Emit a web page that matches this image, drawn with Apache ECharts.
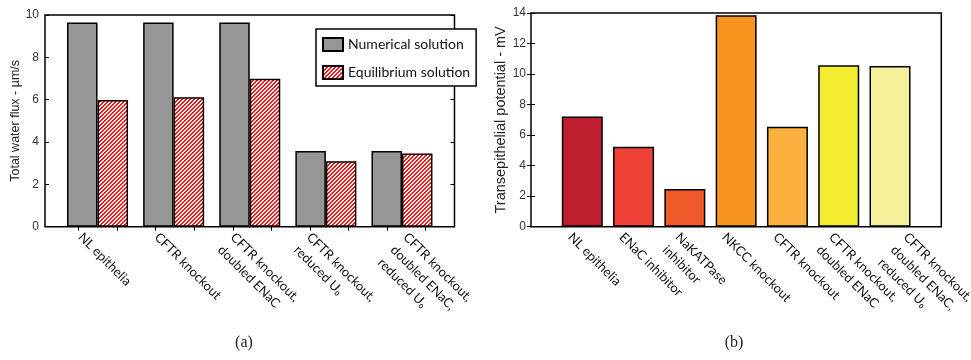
<!DOCTYPE html>
<html><head><meta charset="utf-8">
<script src="https://cdn.jsdelivr.net/npm/echarts@6/dist/echarts.min.js"></script>
<style>html,body{margin:0;padding:0;background:#fff}#c{width:971px;height:360px}</style>
</head><body><div id="c"></div>
<script>
// ---- data ----
const categoriesA = ['NL epithelia', 'CFTR knockout', 'CFTR knockout,\ndoubled ENaC', 'CFTR knockout,\nreduced U\u2080', 'CFTR knockout,\ndoubled ENaC,\nreduced U\u2080'];
const numericalA = [9.64, 9.64, 9.64, 3.57, 3.57];
const equilibriumA = [5.98, 6.12, 6.99, 3.09, 3.46];
const seriesNamesA = ['Numerical solution', 'Equilibrium solution'];
const categoriesB = ['NL epithelia', 'ENaC inhibitor', 'NaKATPase\ninhibitor', 'NKCC knockout', 'CFTR knockout', 'CFTR knockout,\ndoubled ENaC', 'CFTR knockout,\ndoubled ENaC,\nreduced U\u2080'];
const potentialB = [7.22, 5.23, 2.47, 13.86, 6.54, 10.57, 10.52];
const colorsB = ['#BE1E2D', '#EF4136', '#F15A29', '#F7941D', '#FBB040', '#F4EC31', '#F4F19A'];

// ---- layout / style constants ----
const labelShiftA = [-0.14, -0.14, -0.14, -0.14, 0.13];
const labelShiftB = [-0.11, -0.11, -0.02, -0.11, -0.11, -0.02, 0.43];
const topTicksA = [0.75, 1.26, 1.76, 2.27, 2.78, 3.28, 3.79, 4.30, 4.80, 5.31];

const stripe = document.createElement('canvas');
stripe.width = 4; stripe.height = 4;
const sctx = stripe.getContext('2d');
sctx.fillStyle = '#ffffff'; sctx.fillRect(0, 0, 4, 4);
sctx.fillStyle = '#ff1010';
for (let x = 0; x < 4; x++) for (let y = 0; y < 4; y++) if ((x + y) % 4 < 2) sctx.fillRect(x, y, 1, 1);

const catFont = 'Lato, "DejaVu Sans", sans-serif';
const numFont = '"Liberation Sans", Arial, sans-serif';

// labels of every other category go on one axis so neighbours never compete
function catLabel(cats, shifts, parity) {
  const idx = cats.map((c, i) => i).filter(i => i % 2 === parity);
  const pos = idx.map(i => i + 1 + shifts[i]);
  return {
    show: true,
    customValues: pos,
    formatter: v => {
      let best = 0;
      pos.forEach((p, k) => { if (Math.abs(p - v) < Math.abs(pos[best] - v)) best = k; });
      return cats[idx[best]];
    },
    rotate: -45, align: 'left', verticalAlign: 'top',
    showMinLabel: true, showMaxLabel: true, hideOverlap: false,
    margin: 2, fontFamily: catFont, fontSize: 13, lineHeight: 18, color: '#111'
  };
}
function labelAxis(grid, min, max, cats, shifts, parity) {
  return {type: 'value', gridIndex: grid, position: 'bottom', min: min, max: max,
    axisLine: {show: false}, axisTick: {show: false}, splitLine: {show: false},
    axisLabel: catLabel(cats, shifts, parity)};
}

const chart = echarts.init(document.getElementById('c'), null, {renderer: 'canvas'});
chart.setOption({
  animation: false,
  backgroundColor: '#fff',
  grid: [
    {left: 45, top: 15, width: 409.5, height: 211.7, show: true, borderColor: '#000', borderWidth: 1.5, backgroundColor: 'transparent', outerBoundsMode: 'none'},
    {left: 531, top: 13, width: 410.3, height: 213.7, show: true, borderColor: '#000', borderWidth: 1.5, backgroundColor: 'transparent', outerBoundsMode: 'none'}
  ],
  legend: {
    orient: 'vertical', left: 316, top: 29, padding: [8, 6, 6, 6], itemGap: 13,
    itemWidth: 20, itemHeight: 13, icon: 'rect', borderColor: '#000', borderWidth: 1.5,
    backgroundColor: '#fff', textStyle: {fontFamily: catFont, fontSize: 14, color: '#111'},
    data: seriesNamesA, z: 10
  },
  xAxis: [
    labelAxis(0, 0.31, 5.69, categoriesA, labelShiftA, 0),
    {type: 'value', gridIndex: 0, position: 'top', min: 0.31, max: 5.69,
     axisLine: {show: false}, splitLine: {show: false}, axisLabel: {show: false},
     axisTick: {show: true, inside: true, length: 4, customValues: topTicksA, lineStyle: {color: '#000', width: 1}}},
    labelAxis(1, 0, 8, categoriesB, labelShiftB, 0),
    labelAxis(0, 0.31, 5.69, categoriesA, labelShiftA, 1),
    labelAxis(1, 0, 8, categoriesB, labelShiftB, 1)
  ],
  yAxis: [
    {type: 'value', gridIndex: 0, min: 0, max: 10, interval: 2,
     name: 'Total water flux - \u00b5m/s', nameLocation: 'middle', nameGap: 21,
     nameTextStyle: {fontFamily: numFont, fontSize: 12.5, color: '#222'},
     axisLine: {show: false}, splitLine: {show: false},
     axisTick: {show: true, inside: true, length: 4, lineStyle: {color: '#000'}},
     axisLabel: {fontFamily: numFont, fontSize: 12, color: '#333', margin: 6}},
    {type: 'value', gridIndex: 0, position: 'right', min: 0, max: 10, interval: 2,
     axisLine: {show: false}, splitLine: {show: false}, axisLabel: {show: false},
     axisTick: {show: true, inside: true, length: 4, lineStyle: {color: '#000'}}},
    {type: 'value', gridIndex: 1, min: 0, max: 14, interval: 2,
     name: 'Transepithelial potential - mV', nameLocation: 'middle', nameGap: 17,
     nameTextStyle: {fontFamily: numFont, fontSize: 14.5, color: '#222'},
     axisLine: {show: false}, splitLine: {show: false},
     axisTick: {show: true, inside: true, length: 4, lineStyle: {color: '#000'}},
     axisLabel: {fontFamily: numFont, fontSize: 12, color: '#333', margin: 5}},
    {type: 'value', gridIndex: 1, position: 'right', min: 0, max: 14, interval: 2,
     axisLine: {show: false}, splitLine: {show: false}, axisLabel: {show: false},
     axisTick: {show: true, inside: true, length: 4, lineStyle: {color: '#000'}}}
  ],
  series: [
    {name: seriesNamesA[0], type: 'bar', xAxisIndex: 0, yAxisIndex: 0, barWidth: 30.5, barGap: '0%',
     itemStyle: {color: '#969696', borderColor: '#000', borderWidth: 1.5},
     data: numericalA.map((v, i) => [i + 1, v])},
    {name: seriesNamesA[1], type: 'bar', xAxisIndex: 0, yAxisIndex: 0, barWidth: 30.5, barGap: '0%',
     itemStyle: {color: {image: stripe, repeat: 'repeat'}, borderColor: '#000', borderWidth: 1.5},
     data: equilibriumA.map((v, i) => [i + 1, v])},
    {name: 'Transepithelial potential', type: 'bar', xAxisIndex: 2, yAxisIndex: 2, barWidth: 41,
     itemStyle: {borderColor: '#000', borderWidth: 1.5},
     data: potentialB.map((v, i) => ({value: [i + 1, v], itemStyle: {color: colorsB[i]}}))}
  ],
  graphic: [
    {type: 'text', x: 244, y: 343, style: {text: '(a)', textAlign: 'center', textVerticalAlign: 'middle', font: '16px "Liberation Serif", serif', fill: '#222'}},
    {type: 'text', x: 734, y: 343, style: {text: '(b)', textAlign: 'center', textVerticalAlign: 'middle', font: '16px "Liberation Serif", serif', fill: '#222'}}
  ]
});
</script>
</body></html>
